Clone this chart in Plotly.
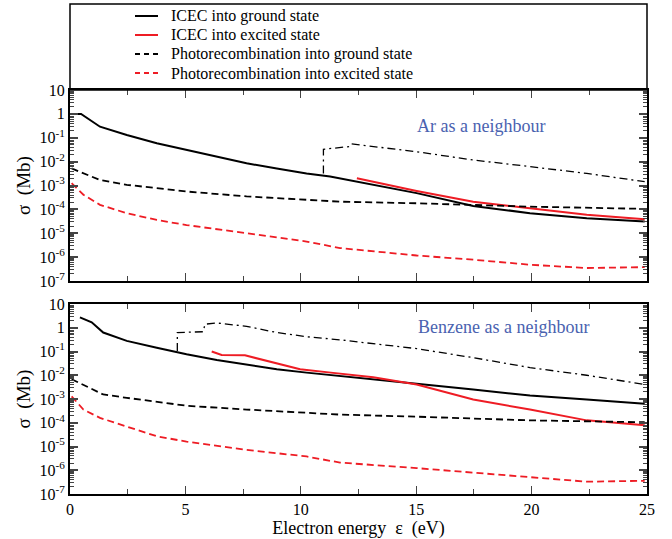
import plotly.graph_objects as go

# ---------------- data ----------------
# Upper panel: Ar as a neighbour
ar_icec_g_x = [0.29, 0.48, 1.3, 2.46, 3.76, 5.05, 6.36, 7.65, 8.96, 10.25, 11.27, 12.56, 15.02, 17.47, 19.93, 22.39, 24.9]
ar_icec_g_y = [1.0, 1.0, 0.29, 0.13, 0.059, 0.031, 0.016, 0.0085, 0.0052, 0.0032, 0.0024, 0.0014, 4.8e-4, 1.4e-4, 6.9e-5, 4.3e-5, 3.1e-5]

ar_icec_e_x = [12.43, 15.02, 17.47, 19.93, 22.39, 24.9]
ar_icec_e_y = [2.0e-3, 5.9e-4, 2.1e-4, 1.1e-4, 5.9e-5, 3.9e-5]

ar_pr_g_x = [0.07, 1.3, 2.46, 5.05, 7.65, 10.25, 11.7, 15.02, 19.93, 24.9]
ar_pr_g_y = [5.2e-3, 1.7e-3, 1.07e-3, 5.6e-4, 3.5e-4, 2.5e-4, 2.1e-4, 1.8e-4, 1.3e-4, 1.05e-4]

ar_pr_e_x = [0.07, 0.58, 1.3, 2.46, 3.76, 5.05, 7.65, 10.25, 11.7, 15.02, 17.47, 19.93, 22.39, 24.9]
ar_pr_e_y = [1.26e-3, 4.1e-4, 1.55e-4, 6.9e-5, 3.6e-5, 2.2e-5, 1.0e-5, 4.5e-6, 2.4e-6, 1.17e-6, 7.8e-7, 4.8e-7, 3.5e-7, 3.8e-7]

ar_dd_x = [10.98, 10.98, 12.13, 12.2, 15.02, 17.47, 19.93, 22.39, 24.9]
ar_dd_y = [3.2e-3, 0.033, 0.043, 0.055, 0.026, 0.0117, 6.2e-3, 3.2e-3, 1.45e-3]

# Lower panel: Benzene as a neighbour
bz_icec_g_x = [0.43, 0.94, 1.44, 2.46, 3.76, 5.05, 6.36, 7.65, 8.96, 10.25, 11.7, 15.02, 17.47, 19.93, 22.39, 24.9]
bz_icec_g_y = [2.75, 1.7, 0.63, 0.28, 0.145, 0.076, 0.044, 0.029, 0.018, 0.0129, 0.0095, 4.4e-3, 2.5e-3, 1.4e-3, 9.5e-4, 6.3e-4]

bz_icec_e_x = [6.14, 6.57, 7.58, 8.52, 9.97, 11.3, 13.14, 15.02, 16.17, 17.47, 19.93, 22.39, 24.9]
bz_icec_e_y = [0.1, 0.072, 0.069, 0.04, 0.0178, 0.0129, 8.3e-3, 4.1e-3, 2.1e-3, 9.5e-4, 3.6e-4, 1.26e-4, 7.8e-5]

bz_pr_g_x = [0.07, 1.44, 2.46, 5.05, 7.65, 10.25, 11.7, 15.02, 19.93, 24.9]
bz_pr_g_y = [6.8e-3, 1.55e-3, 1.12e-3, 5.2e-4, 3.6e-4, 2.6e-4, 2.2e-4, 1.8e-4, 1.26e-4, 1.05e-4]

bz_pr_e_x = [0.07, 0.58, 1.3, 2.46, 3.76, 5.05, 7.65, 10.25, 11.7, 15.02, 17.47, 19.93, 22.39, 24.9]
bz_pr_e_y = [1.3e-3, 3.6e-4, 1.6e-4, 7.1e-5, 2.7e-5, 1.6e-5, 7.2e-6, 3.8e-6, 2.1e-6, 1.23e-6, 7.9e-7, 5.4e-7, 3.3e-7, 3.6e-7]

bz_dd_x = [4.65, 4.65, 5.77, 5.85, 6.36, 7.65, 8.96, 10.25, 11.7, 15.02, 17.47, 19.93, 22.39, 24.9]
bz_dd_y = [0.105, 0.63, 0.68, 1.41, 1.58, 1.15, 0.63, 0.42, 0.31, 0.132, 0.055, 0.021, 0.01, 4.1e-3]

legend_names = ["ICEC into ground state", "ICEC into excited state",
                "Photorecombination into ground state", "Photorecombination into excited state"]
panel_labels = ["Ar as a neighbour", "Benzene as a neighbour"]

y_tick_vals = [1e-7, 1e-6, 1e-5, 1e-4, 1e-3, 1e-2, 1e-1, 1, 10]
y_tick_text = ["10<sup>-7</sup>", "10<sup>-6</sup>", "10<sup>-5</sup>", "10<sup>-4</sup>",
               "10<sup>-3</sup>", "10<sup>-2</sup>", "10<sup>-1</sup>", "1", "10"]
x_tick_vals = [0, 5, 10, 15, 20, 25]

# ---------------- figure ----------------
FONT = "Liberation Serif"
BLACK = "black"
RED = "#ee1c24"
DASH = "7px,4px"
DASHDOT = "8px,4px,2px,4px"

fig = go.Figure()

series_styles = [
    (BLACK, "solid", 2.0),
    (RED, "solid", 2.0),
    (BLACK, DASH, 1.8),
    (RED, DASH, 1.8),
]

def add_panel(xa, ya, data):
    for (x, y), (c, d, w), name in zip(data[:4], series_styles, legend_names):
        fig.add_trace(go.Scatter(x=x, y=y, mode="lines", name=name,
                                 line=dict(color=c, dash=d, width=w),
                                 xaxis=xa, yaxis=ya, showlegend=False))
    dd_x, dd_y = data[4]
    fig.add_trace(go.Scatter(x=dd_x, y=dd_y, mode="lines", name="dd",
                             line=dict(color=BLACK, dash=DASHDOT, width=1.3),
                             xaxis=xa, yaxis=ya, showlegend=False))

add_panel("x", "y", [(ar_icec_g_x, ar_icec_g_y), (ar_icec_e_x, ar_icec_e_y),
                     (ar_pr_g_x, ar_pr_g_y), (ar_pr_e_x, ar_pr_e_y), (ar_dd_x, ar_dd_y)])
add_panel("x2", "y2", [(bz_icec_g_x, bz_icec_g_y), (bz_icec_e_x, bz_icec_e_y),
                       (bz_pr_g_x, bz_pr_g_y), (bz_pr_e_x, bz_pr_e_y), (bz_dd_x, bz_dd_y)])

minor_y = [m * 10 ** k for k in range(-7, 1) for m in range(2, 10)]

def xaxis_cfg(anchor, labels):
    return dict(anchor=anchor, range=[0, 25], tickmode="array", tickvals=x_tick_vals,
                showticklabels=labels, ticks="inside", ticklen=8, tickwidth=1,
                mirror="allticks", showline=True, linecolor="black", linewidth=2,
                showgrid=False, zeroline=False, automargin=False,
                minor=dict(tickmode="array", tickvals=[2.5, 7.5, 12.5, 17.5, 22.5],
                           ticks="inside", ticklen=5, tickwidth=1, showgrid=False),
                tickfont=dict(family=FONT, size=16, color="black"))

def yaxis_cfg(anchor, domain):
    return dict(anchor=anchor, domain=domain, type="log", range=[-7, 1],
                tickmode="array", tickvals=y_tick_vals, ticktext=y_tick_text,
                ticks="inside", ticklen=8, tickwidth=1.5,
                mirror="allticks", showline=True, linecolor="black", linewidth=2,
                showgrid=False, zeroline=False, automargin=False,
                minor=dict(tickmode="array", tickvals=minor_y, ticks="inside",
                           ticklen=4, tickwidth=1, showgrid=False),
                tickfont=dict(family=FONT, size=16, color="black"),
                title=dict(text="σ  (Mb)", font=dict(family=FONT, size=19, color="black"),
                           standoff=4))

H = 490.0
def py(pix):  # pixel row -> paper fraction
    return (494 - pix) / H
def px(pix):  # pixel column -> paper fraction
    return (pix - 70) / 577.0

top_dom = [py(281), py(90)]
bot_dom = [0, py(304)]

fig.update_layout(
    width=672, height=539,
    margin=dict(l=70, r=25, t=4, b=45, autoexpand=False),
    paper_bgcolor="white", plot_bgcolor="white",
    font=dict(family=FONT, color="black"),
    xaxis=xaxis_cfg("y", False),
    yaxis=yaxis_cfg("x", top_dom),
    xaxis2=xaxis_cfg("y2", True),
    yaxis2=yaxis_cfg("x2", bot_dom),
    showlegend=False,
)
fig.update_layout(xaxis2_title=dict(text="Electron energy  ε  (eV)",
                                    font=dict(family=FONT, size=18, color="black"),
                                    standoff=5))

# legend frame
fig.add_shape(type="rect", xref="paper", yref="paper", x0=0, x1=1,
              y0=top_dom[1], y1=1.0, line=dict(color="black", width=1.5))

# legend entries (drawn by hand inside the frame)
legend_rows = [16, 35, 54, 73]
for row, (c, d, w), name in zip(legend_rows, series_styles, legend_names):
    fig.add_shape(type="line", xref="paper", yref="paper",
                  x0=px(135), x1=px(158), y0=py(row), y1=py(row),
                  line=dict(color=c, dash="5px,4px" if d != "solid" else "solid", width=2))
    fig.add_annotation(text=name, xref="paper", yref="paper", x=px(169), y=py(row),
                       xanchor="left", yanchor="middle", showarrow=False,
                       font=dict(family=FONT, size=16, color="black"))

fig.add_annotation(text=panel_labels[0], xref="x", yref="paper", x=(481 - 70) / 23.08,
                   y=py(114), showarrow=False,
                   font=dict(family=FONT, size=18, color="#4a62b0"))
fig.add_annotation(text=panel_labels[1], xref="x2", yref="paper", x=(503 - 70) / 23.08,
                   y=py(327), showarrow=False,
                   font=dict(family=FONT, size=18, color="#4a62b0"))

fig.write_html("out.html")
